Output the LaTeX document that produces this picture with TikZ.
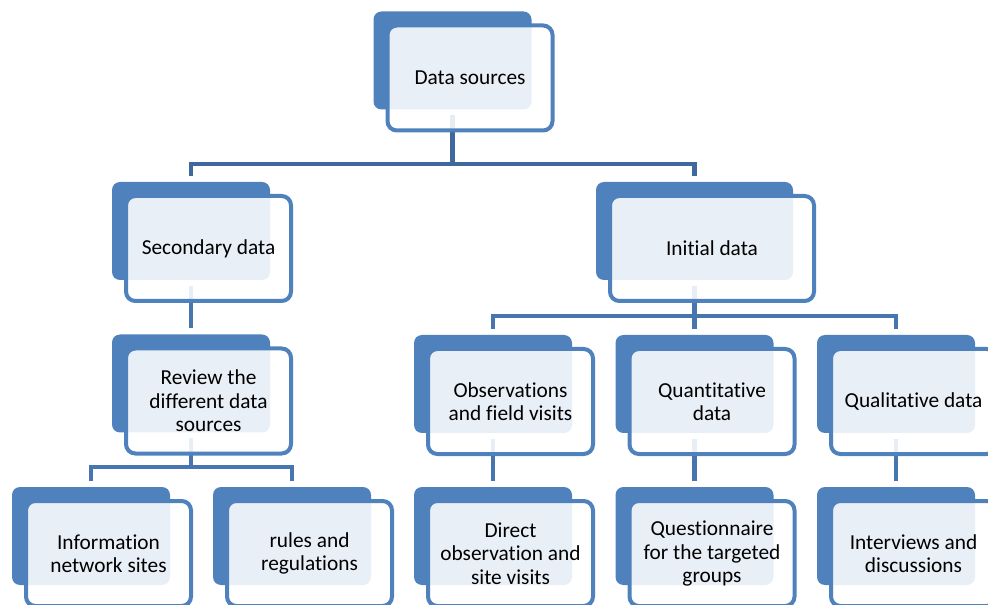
\documentclass[tikz,border=0pt]{standalone}
\usepackage{fontspec}
\setmainfont[Ligatures=NoCommon]{Carlito}
\usepackage{tikz}
\usetikzlibrary{calc,backgrounds}

\definecolor{cardblue}{RGB}{79,129,189}
\definecolor{linkdark}{RGB}{62,104,158}
\definecolor{linkmid}{RGB}{71,117,176}

\newcommand{\backcard}[1]{%
  \fill[cardblue,rounded corners=6pt] ($(#1.north west)+(-14,-14)$) rectangle ($(#1.south east)+(-21,-21)$);
  \coordinate (#1-up) at ($(#1.north)+(-17.5,-20)$);
  \coordinate (#1-dn) at ($(#1.south)+(-17.5,-15)$);}

\begin{document}
\begin{tikzpicture}[x=0.75pt,y=-0.75pt,line join=miter,
  card/.style={draw=cardblue,line width=3pt,rounded corners=7pt,fill=white,fill opacity=0.88,
    draw opacity=1,text opacity=1,minimum width=123.75pt,minimum height=78.75pt,inner sep=0pt,
    outer sep=0pt,align=center,font=\fontsize{16}{17.5}\selectfont},
  link/.style={line width=3.5pt,linkmid}]
  \useasboundingbox (0,0) rectangle (988,605);
  \node[card] (ds) at (470,78) {Data sources};
  \node[card] (sd) at (208.5,248.5) {Secondary data};
  \node[card,minimum width=153pt] (id) at (712,248.5) {Initial data};
  \node[card] (rv) at (208.5,401) {Review the\\different data\\sources};
  \node[card] (ob) at (510.5,401.5) {Observations\\and field visits};
  \node[card] (qn) at (712,401.5) {Quantitative\\data};
  \node[card] (ql) at (913.5,401.5) {Qualitative data};
  \node[card] (inf) at (108.5,553.5) {Information\\network sites};
  \node[card] (rr) at (309.5,553.5) {rules and\\regulations};
  \node[card] (dv) at (510.5,553.5) {Direct\\observation and\\site visits};
  \node[card] (qg) at (712,553.5) {Questionnaire\\for the targeted\\groups};
  \node[card] (iv) at (913.5,553.5) {Interviews and\\discussions};
  \begin{pgfonlayer}{background}
    \foreach \n in {ds,sd,id,rv,ob,qn,ql,inf,rr,dv,qg,iv} {\backcard{\n}}
    \coordinate (bus1) at (0,164);
    \coordinate (bus2) at (0,316);
    \coordinate (bus3) at (0,467);
    \draw[link,linkdark] (ds-dn) -- (ds-dn |- bus1) -| (sd-up);
    \draw[link,linkdark] (ds-dn |- bus1) -| (id-up);
    \draw[link] (sd-dn) -- (rv-up);
    \draw[link] (id-dn) -- (id-dn |- bus2) -| (ob-up);
    \draw[link] (id-dn |- bus2) -| (ql-up);
    \draw[link] (id-dn) -- (qn-up);
    \draw[link] (rv-dn) -- (rv-dn |- bus3) -| (inf-up);
    \draw[link] (rv-dn |- bus3) -| (rr-up);
    \draw[link] (ob-dn) -- (dv-up);
    \draw[link] (qn-dn) -- (qg-up);
    \draw[link] (ql-dn) -- (iv-up);
  \end{pgfonlayer}
\end{tikzpicture}
\end{document}
